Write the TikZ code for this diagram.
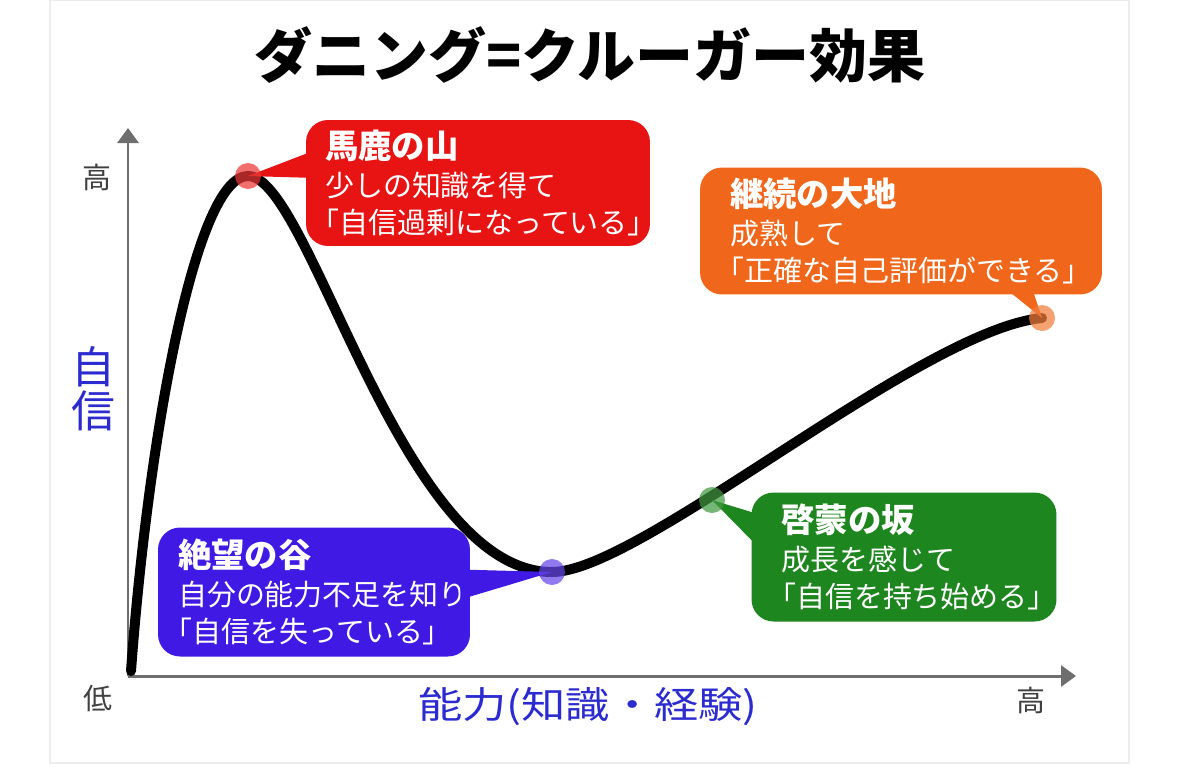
\documentclass[tikz,border=0pt]{standalone}
\usepackage{fontspec}
\setmainfont{Noto Sans CJK JP}
\newfontfamily\widejp{Noto Sans CJK JP}[FakeStretch=1.2]
\usetikzlibrary{arrows.meta}

\definecolor{axisgray}{HTML}{6E6E6E}
\definecolor{mtred}{HTML}{E81414}
\definecolor{vlblue}{HTML}{4019E4}
\definecolor{slgreen}{HTML}{1E861E}
\definecolor{plorange}{HTML}{F0661A}
\definecolor{axisblue}{HTML}{2B2BCF}
\newcommand{\bubhead}{\bfseries\fontsize{19}{21}\selectfont}

\begin{document}
\begin{tikzpicture}[x=0.02cm, y=-0.02cm,
  axis/.style={draw=axisgray, line width=1.7pt, -{Triangle[length=0.3cm,width=0.42cm]}},
  curve/.style={line width=5.7pt, line cap=round},
  dot/.style={circle, minimum size=0.52cm, inner sep=0pt, fill opacity=0.72},
  bubble/.style={rounded corners=0.44cm, align=left, text=white, inner ysep=0pt,
    font=\fontsize{16.5}{21}\selectfont},
  lvl/.style={text=black!75, font=\fontsize{16.5}{18}\selectfont}
]
\useasboundingbox (0,0) rectangle (1179,768);
\draw[black!7, line width=0.6pt] (50,0) rectangle (1129,763);

% title
\node[font=\bfseries\fontsize{33}{36}\selectfont] (title) at (590,55) {ダニング=クルーガー効果};

% axes
\coordinate (o) at (128,676);
\coordinate (ytip) at (128,128);
\coordinate (xtip) at (1076,676);
\draw[axis] (o) -- (ytip);
\draw[axis] (o) -- (xtip);
\node[lvl] (yhigh) at (97,177) {高};
\node[lvl] (ylow) at (98,698) {低};
\node[lvl] (xhigh) at (1031,700) {高};
\node[text=axisblue, align=center, font=\fontsize{25}{25}\selectfont] (ylabel) at (93,389) {自\\信};
\node[text=axisblue, font=\widejp\fontsize{21}{24}\selectfont] (xlabel) at (588,707) {能力(知識・経験)};

% curve
\coordinate (start) at (131,671);
\coordinate (top) at (248,176);
\coordinate (low) at (552,572);
\coordinate (mid) at (712,500);
\coordinate (end) at (1042,318);
\draw[curve] (start) .. controls (148,440) and (195,176) .. (top)
  .. controls (310,176) and (400,572) .. (low)
  .. controls (640,572) and (920,330) .. (end);

% bubbles
\node[bubble, fill=mtred, text width=6.12cm, inner xsep=0.38cm, minimum height=2.52cm] (mtbub) at (478,183)
  {{\bubhead 馬鹿の山}\\[1pt]少しの知識を得て\\\hspace*{-0.5em}「自信過剰になっている」};
\fill[mtred] (top) -- ([xshift=0.2cm,yshift=0.66cm]mtbub.west) -- ([xshift=0.2cm,yshift=0.1cm]mtbub.west) -- cycle;

\node[bubble, fill=plorange, text width=6.84cm, inner xsep=0.6cm, minimum height=2.54cm] (plbub) at (901,231)
  {{\bubhead 継続の大地}\\[1pt]成熟して\\\hspace*{-0.5em}「正確な自己評価ができる」};
\fill[plorange] (end) -- ([xshift=2.0cm,yshift=0.2cm]plbub.south) -- ([xshift=2.6cm,yshift=0.2cm]plbub.south) -- cycle;

\node[bubble, fill=slgreen, text width=4.9cm, inner xsep=0.6cm, minimum height=2.58cm] (slbub) at (904,557)
  {{\bubhead 啓蒙の坂}\\[1pt]成長を感じて\\\hspace*{-0.5em}「自信を持ち始める」};
\fill[slgreen] (mid) -- ([xshift=0.2cm,yshift=0.84cm]slbub.west) -- ([xshift=0.2cm,yshift=0.14cm]slbub.west) -- cycle;

\node[bubble, fill=vlblue, text width=5.44cm, inner xsep=0.4cm, minimum height=2.58cm] (vlbub) at (314,592)
  {{\bubhead 絶望の谷}\\[1pt]自分の能力不足を知り\\\hspace*{-0.5em}「自信を失っている」};
\fill[vlblue] (low) -- ([xshift=-0.2cm,yshift=0.45cm]vlbub.east) -- ([xshift=-0.2cm,yshift=-0.15cm]vlbub.east) -- cycle;

% dots
\node[dot, fill=mtred!85] (mtdot) at (top) {};
\node[dot, fill=vlblue!80] (vldot) at (low) {};
\node[dot, fill=slgreen!85] (sldot) at (mid) {};
\node[dot, fill=plorange!85] (pldot) at (end) {};
\end{tikzpicture}
\end{document}
